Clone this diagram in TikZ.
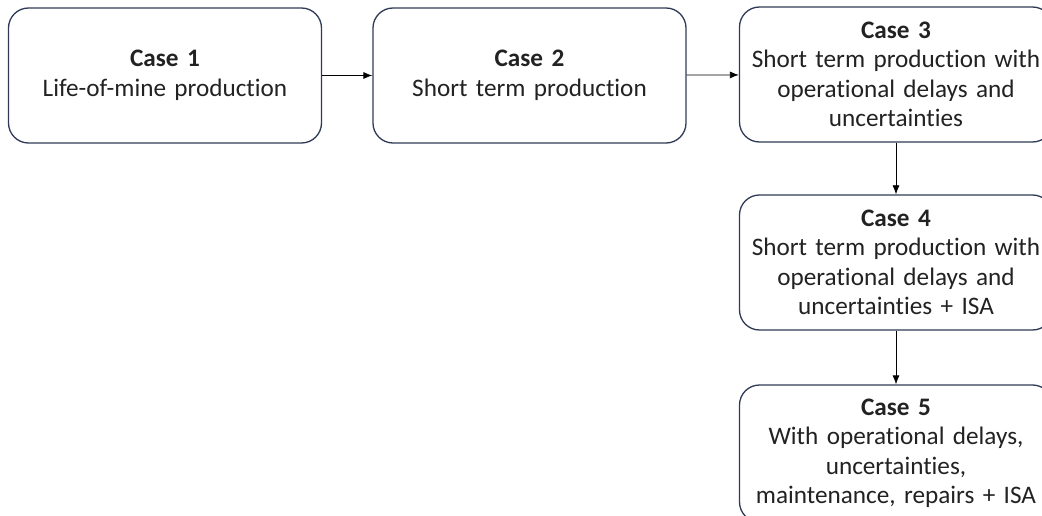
\documentclass[tikz,border=0pt]{standalone}
\usepackage{fontspec}
\setmainfont{Carlito}[Ligatures=NoCommon, WordSpace=0.6]
\usetikzlibrary{arrows.meta}
\definecolor{boxline}{HTML}{2F3B56}
\definecolor{ink}{HTML}{222222}
\tikzset{
  casebox/.style={draw=boxline, line width=1.3pt, rounded corners=20pt,
    minimum width=313pt, minimum height=135pt, text width=312pt, inner xsep=0pt,
    align=center, text=ink, font=\fontsize{25.2}{29.5}\selectfont},
  flow/.style={-{Latex[length=9pt,width=7pt]}, line width=0.8pt, black}
}
\begin{document}
\begin{tikzpicture}[x=1pt,y=-1pt]
\useasboundingbox (0,0) rectangle (1042,516);
\clip (0,0) rectangle (1042,516);
\fill[white] (0,0) rectangle (1042,516);
\node[casebox] (c1) at (165,75.5) {\textbf{Case 1}\\Life-of-mine production};
\node[casebox] (c2) at (529.5,75.5) {\textbf{Case 2}\\Short term production};
\node[casebox] (c3) at (896,74.5) {\textbf{Case 3}\\Short term production with\\operational delays and\\uncertainties};
\node[casebox] (c4) at (896,262.5) {\textbf{Case 4}\\Short term production with\\operational delays and\\uncertainties + ISA};
\node[casebox, minimum height=137pt] (c5) at (896,453.5) {\textbf{Case 5}\\With operational delays,\\uncertainties,\\maintenance, repairs + ISA};
\draw[flow] (c1) -- (c2);
\draw[flow] (c2) -- (c3);
\draw[flow] (c3) -- (c4);
\draw[flow] (c4) -- (c5);
\end{tikzpicture}
\end{document}
